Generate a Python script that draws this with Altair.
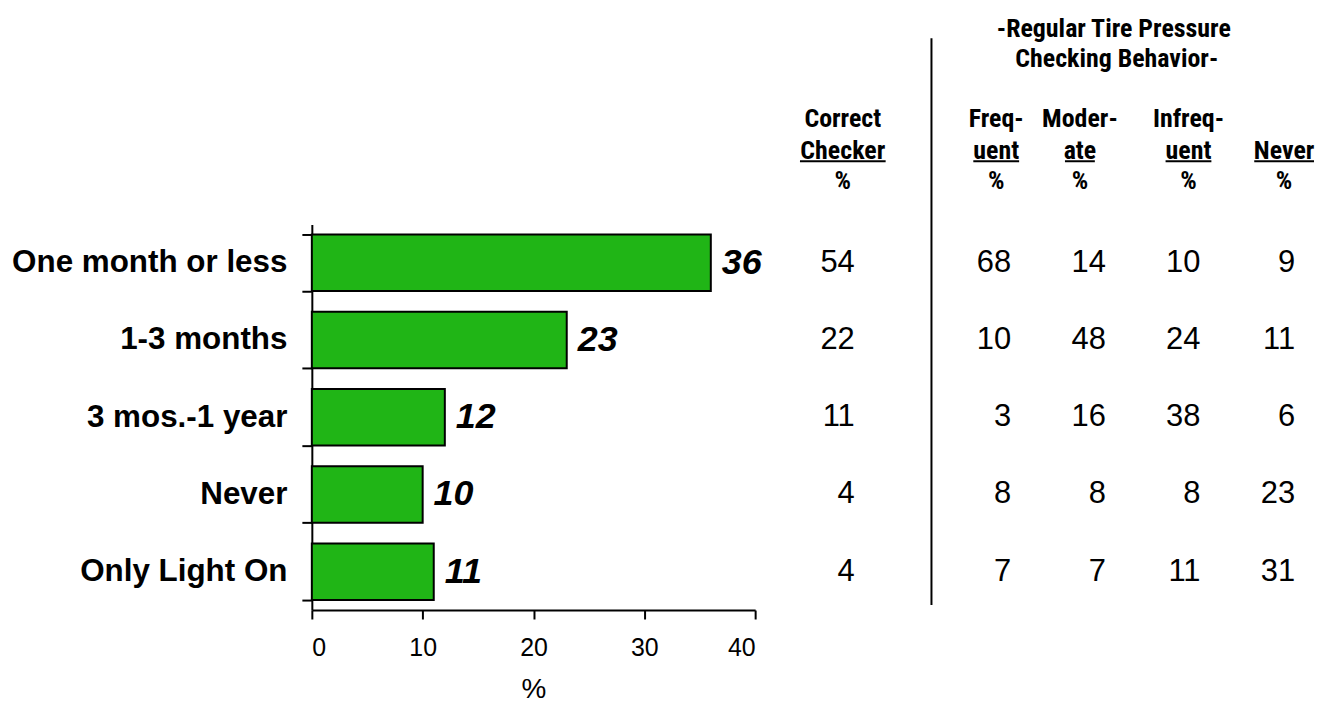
import altair as alt
import pandas as pd

categories = ["One month or less", "1-3 months", "3 mos.-1 year", "Never", "Only Light On"]
overall = [36, 23, 12, 10, 11]
correct_checker = [54, 22, 11, 4, 4]
frequent = [68, 10, 3, 8, 7]
moderate = [14, 48, 16, 8, 7]
infrequent = [10, 24, 38, 8, 11]
never = [9, 11, 6, 23, 31]

table_columns = ["Correct Checker", "Frequent", "Moderate", "Infrequent", "Never"]
header_line1 = ["Correct", "Freq-", "Moder-", "Infreq-", ""]
header_line2 = ["Checker", "uent", "ate", "uent", "Never"]
header_line3 = ["%", "%", "%", "%", "%"]
group_header = ["-Regular Tire Pressure", "Checking Behavior-"]
x_ticks = [0, 10, 20, 30, 40]

# styling (pixel layout relative to plot area)
W, H = 445, 387
number_right = [545, 702, 797, 892, 987]
header_centers = [533, 687, 771, 880, 976]
underline_half = [43, 23, 15, 23, 30]
header_y = [-106, -74, -44]
underline_y = -63.5
group_y = [-196, -166]
group_x = [805, 808]
sep_x = 622

NARROW = "Roboto Condensed, Liberation Sans Narrow, Arial Narrow, sans-serif"
ARIAL = "Liberation Sans, Arial, sans-serif"
GREEN = "#20B516"

bars_df = pd.DataFrame({"cat": categories, "value": overall})
cols = [correct_checker, frequent, moderate, infrequent, never]
rows = []
for ci, vals in enumerate(cols):
    for cat, v in zip(categories, vals):
        rows.append({"cat": cat, "ci": ci, "num": v})
table_df = pd.DataFrame(rows)
col_index = list(range(len(table_columns)))

x_scale = alt.Scale(domain=[0, 40], nice=False)

bars = alt.Chart(bars_df).mark_bar(color=GREEN, stroke="black", strokeWidth=2).encode(
    x=alt.X("value:Q", scale=x_scale,
            axis=alt.Axis(values=x_ticks, title="%", labelFont=ARIAL, labelFontSize=25,
                          labelColor="black", labelPadding=17, tickSize=9, tickWidth=2,
                          tickColor="black", domainColor="black", domainWidth=2, grid=False,
                          titleFont=ARIAL, titleFontSize=28, titleFontWeight="normal",
                          titlePadding=15, titleColor="black")),
    y=alt.Y("cat:N", sort=categories,
            scale=alt.Scale(paddingInner=0.268, paddingOuter=0.129),
            axis=alt.Axis(title=None, tickBand="extent", labelFont=ARIAL, labelFontSize=31.5,
                          labelFontWeight="bold", labelColor="black", labelPadding=15,
                          tickSize=10, tickWidth=2, tickColor="black", domainColor="black",
                          domainWidth=2, labelLimit=500)),
)

bar_labels = alt.Chart(bars_df).mark_text(
    align="left", baseline="middle", dx=11, font=ARIAL, fontSize=36,
    fontWeight="bold", fontStyle="italic", color="black"
).encode(x=alt.X("value:Q", scale=x_scale, axis=None),
         y=alt.Y("cat:N", sort=categories), text="value:Q")

numbers = alt.Chart(table_df).mark_text(
    align="right", baseline="middle", font=ARIAL, fontSize=31, color="black"
).encode(
    x=alt.X("ci:Q", scale=alt.Scale(domain=col_index, range=number_right), axis=None),
    y=alt.Y("cat:N", sort=categories),
    text="num:Q",
)

layers = [bars, bar_labels, numbers]

for lines, yv in zip([header_line1, header_line2, header_line3], header_y):
    hdf = pd.DataFrame({"ci": col_index, "txt": lines})
    layers.append(alt.Chart(hdf).mark_text(
        align="center", baseline="middle", font=NARROW, fontSize=26, fontWeight="bold",
        color="black").encode(
        x=alt.X("ci:Q", scale=alt.Scale(domain=col_index, range=header_centers), axis=None),
        y=alt.value(yv), text="txt:N"))

for c, hw in zip(header_centers, underline_half):
    layers.append(alt.Chart(pd.DataFrame({"a": [0]})).mark_rule(color="black", strokeWidth=2).encode(
        x=alt.value(c - hw), x2=alt.value(c + hw), y=alt.value(underline_y)))

for txt, yv, xv in zip(group_header, group_y, group_x):
    layers.append(alt.Chart(pd.DataFrame({"t": [txt]})).mark_text(
        align="center", baseline="middle", font=NARROW, fontSize=26, fontWeight="bold",
        color="black").encode(x=alt.value(xv), y=alt.value(yv), text="t:N"))

layers.append(alt.Chart(pd.DataFrame({"a": [0]})).mark_rule(color="black", strokeWidth=2).encode(
    x=alt.value(sep_x), y=alt.value(-187), y2=alt.value(382)))

chart = alt.layer(*layers).resolve_scale(x="independent").properties(
    width=W, height=H, padding={"left": 3, "top": 7, "right": 0, "bottom": 0},
    background="white"
).configure_view(stroke=None)

chart.save("out.html", embed_options={"renderer": "svg", "actions": False})
